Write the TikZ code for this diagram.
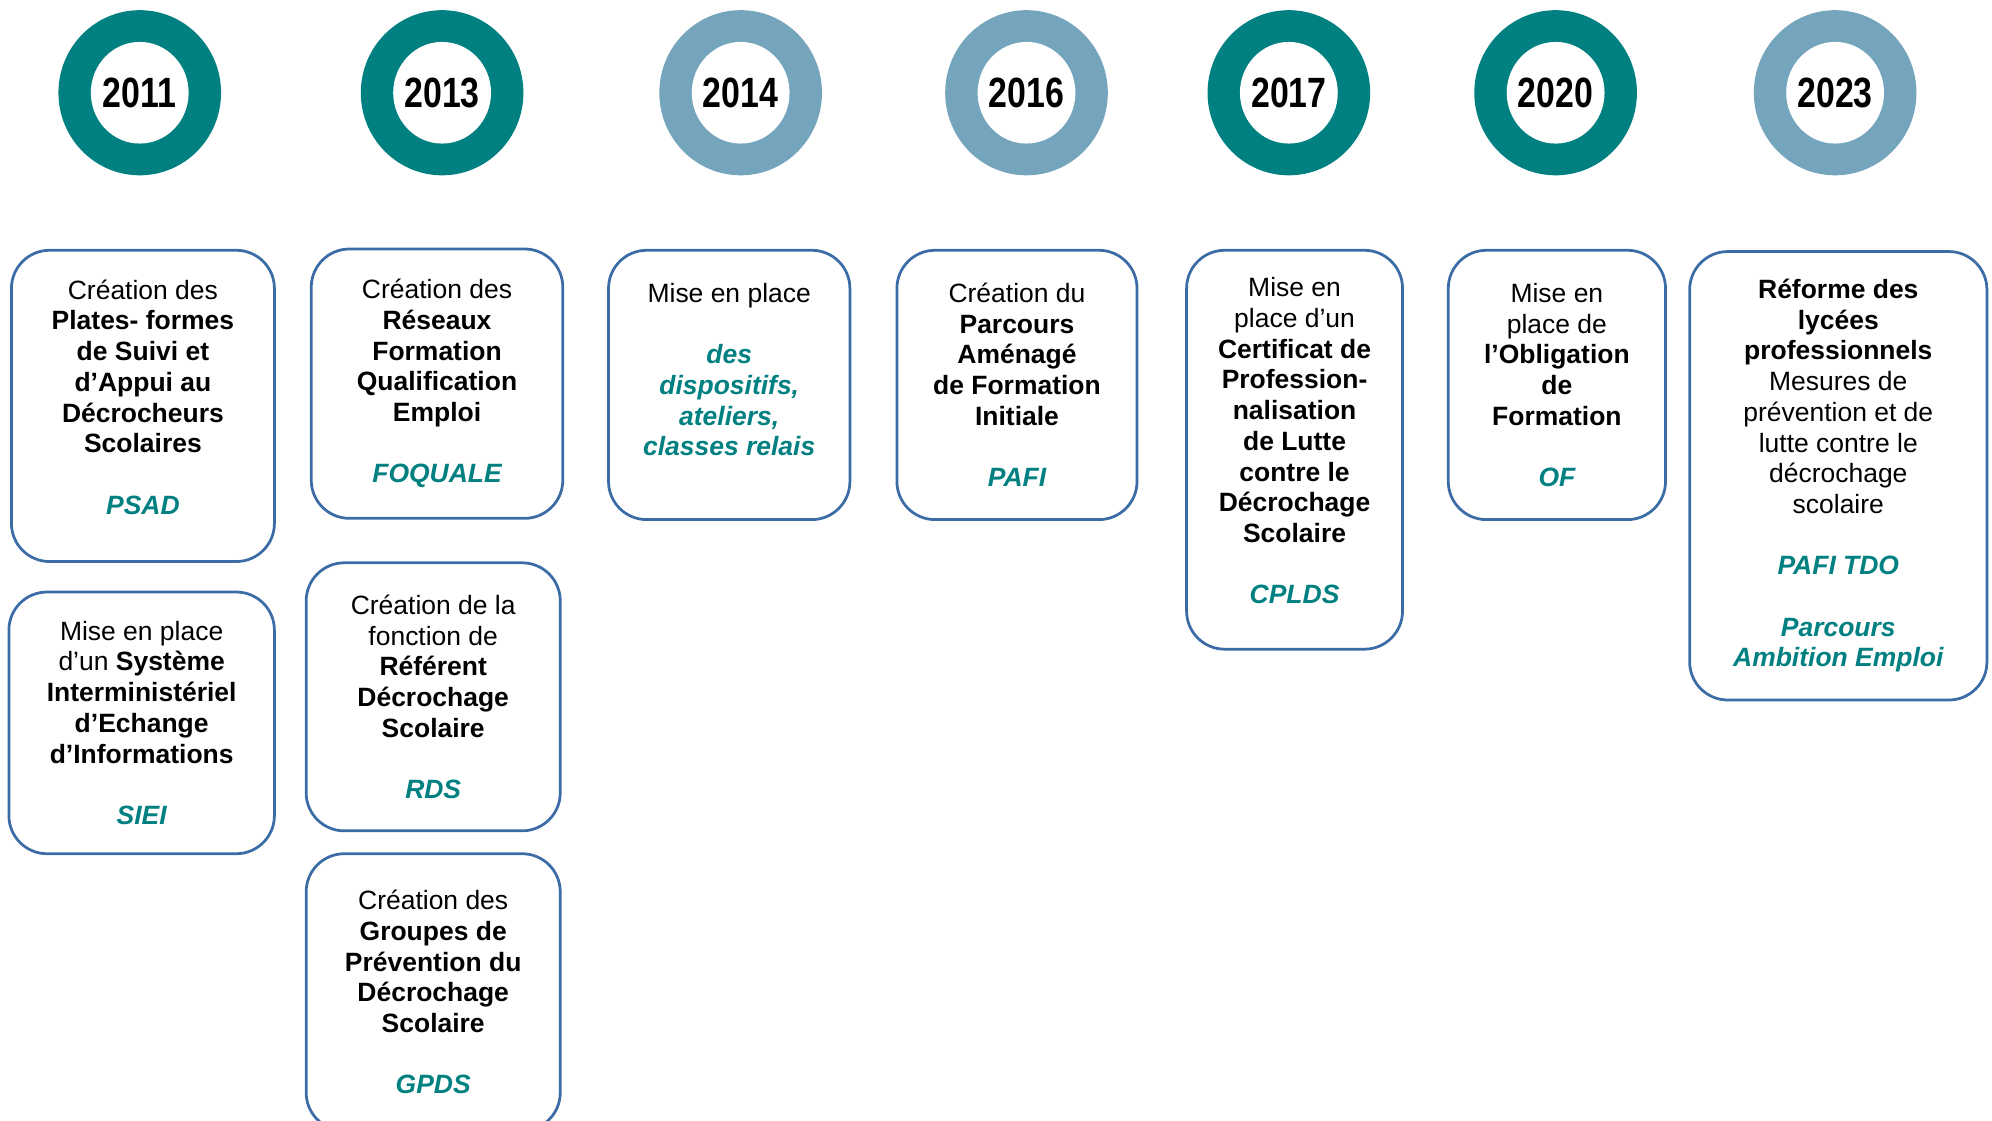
\documentclass[tikz,border=0pt]{standalone}
\usepackage{fontspec}
\usepackage{graphicx}
\setmainfont{Liberation Sans}
\definecolor{ringdark}{RGB}{0,128,128}
\definecolor{ringlight}{RGB}{116,165,189}
\definecolor{acrocol}{RGB}{0,128,128}
\definecolor{cardline}{RGB}{60,108,166}
\newcommand\acr[1]{{\color{acrocol}\bfseries\itshape #1}}

\tikzset{
 card/.style={draw=cardline, line width=1.3pt, rounded corners=18pt, fill=white,
   align=center, font=\fontsize{12.5}{14.5}\selectfont},
 year/.style={font=\fontsize{20}{22}\selectfont\bfseries, inner sep=0pt}
}

\begin{document}
\begin{tikzpicture}[x=0.6pt, y=-0.6pt]
\useasboundingbox (0,0) rectangle (1568,882);
\clip (0,0) rectangle (1568,882);
% year rings
\foreach \x/\yr/\col in {110/2011/ringdark, 348/2013/ringdark, 583/2014/ringlight,
  808/2016/ringlight, 1014.5/2017/ringdark, 1224.5/2020/ringdark, 1444.5/2023/ringlight} {
 \fill[\col] (\x,73) ellipse (64 and 65);
 \fill[white] (\x,73) ellipse (38.5 and 40);
 \node[year] (y\yr) at (\x,73) {\scalebox{0.8}[1]{\yr}};
}
% column 2011
\node[card, minimum width=124.2pt, minimum height=147pt] (psad) at (112.5,319.5)
 {Création des\\ \textbf{Plates- formes}\\ \textbf{de Suivi et}\\ \textbf{d’Appui au}\\ \textbf{Décrocheurs}\\ \textbf{Scolaires}\\[14.5pt] \acr{PSAD}\\[-6pt]\mbox{}};
\node[card, minimum width=125.4pt, minimum height=123.6pt] (siei) at (111.5,569)
 {Mise en place\\ d’un \textbf{Système}\\ \textbf{Interministériel}\\ \textbf{d’Echange}\\ \textbf{d’Informations}\\[14.5pt] \acr{SIEI}};
% column 2013
\node[card, minimum width=118.8pt, minimum height=127.2pt] (foquale) at (344,302)
 {Création des\\ \textbf{Réseaux}\\ \textbf{Formation}\\ \textbf{Qualification}\\ \textbf{Emploi}\\[14.5pt] \acr{FOQUALE}};
\node[card, minimum width=120pt, minimum height=126.6pt] (rds) at (341,548.5)
 {Création de la\\ fonction de\\ \textbf{Référent}\\ \textbf{Décrochage}\\ \textbf{Scolaire}\\[14.5pt] \acr{RDS}};
\node[card, minimum width=120pt, minimum height=130.8pt] (gpds) at (341,781)
 {Création des\\ \textbf{Groupes de}\\ \textbf{Prévention du}\\ \textbf{Décrochage}\\ \textbf{Scolaire}\\[14.5pt] \acr{GPDS}};
% column 2014
\node[card, minimum width=114pt, minimum height=127.2pt] (relais) at (574,303)
 {Mise en place\\[14.5pt] \acr{des}\\ \acr{dispositifs,}\\ \acr{ateliers,}\\ \acr{classes relais}\\ \mbox{}};
% column 2016
\node[card, minimum width=113.4pt, minimum height=127.2pt] (pafi) at (800.5,303)
 {Création du\\ \textbf{Parcours}\\ \textbf{Aménagé}\\ \textbf{de Formation}\\ \textbf{Initiale}\\[14.5pt] \acr{PAFI}};
% column 2017
\node[card, minimum width=102pt, minimum height=188.4pt] (cplds) at (1019,354)
 {Mise en\\ place d’un\\ \textbf{Certificat de}\\ \textbf{Profession-}\\ \textbf{nalisation}\\ \textbf{de Lutte}\\ \textbf{contre le}\\ \textbf{Décrochage}\\ \textbf{Scolaire}\\[14.5pt] \acr{CPLDS}\\[-6pt]\mbox{}};
% column 2020
\node[card, minimum width=102.6pt, minimum height=127.2pt] (of) at (1225.5,303)
 {Mise en\\ place de\\ \textbf{l’Obligation}\\ \textbf{de}\\ \textbf{Formation}\\[14.5pt] \acr{OF}};
% column 2023
\node[card, minimum width=140.4pt, minimum height=211.8pt] (tdo) at (1447,374.5)
 {\textbf{Réforme des}\\ \textbf{lycées}\\ \textbf{professionnels}\\ Mesures de\\ prévention et de\\ lutte contre le\\ décrochage\\ scolaire\\[14.5pt] \acr{PAFI TDO}\\[14.5pt] \acr{Parcours}\\ \acr{Ambition Emploi}};
\end{tikzpicture}
\end{document}
